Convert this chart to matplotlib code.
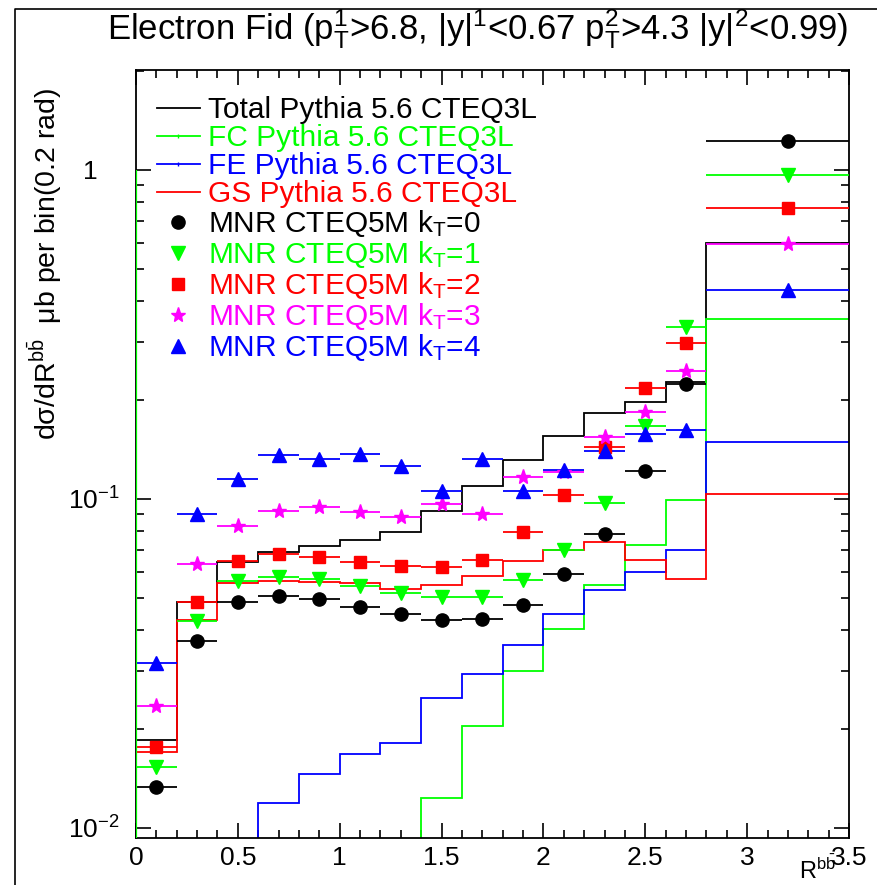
import numpy as np
import matplotlib
matplotlib.use("Agg")
import matplotlib.pyplot as plt
from matplotlib.lines import Line2D
from matplotlib.ticker import FixedLocator, FixedFormatter, LogLocator, NullFormatter, MultipleLocator

plt.rcParams['font.family'] = ['Liberation Sans', 'DejaVu Sans']
plt.rcParams['mathtext.fontset'] = 'custom'
plt.rcParams['mathtext.rm'] = 'Liberation Sans'
plt.rcParams['mathtext.it'] = 'Liberation Sans'
plt.rcParams['mathtext.bf'] = 'Liberation Sans:bold'

# ---- binning in R^{bb} (rad) ----
bin_edges = [0.0, 0.2, 0.4, 0.6, 0.8, 1.0, 1.2, 1.4, 1.6, 1.8, 2.0, 2.2, 2.4, 2.6, 2.8, 3.6]

# ---- Pythia 5.6 CTEQ3L histograms (ub per bin) ----
total_pythia = [0.0185, 0.0485, 0.0642, 0.0689, 0.0716, 0.0747, 0.079, 0.092,
                0.109, 0.131, 0.155, 0.182, 0.197, 0.226, 0.600]
gs_pythia = [0.0170, 0.0429, 0.0554, 0.0561, 0.0558, 0.0554, 0.0532, 0.0548,
             0.0584, 0.0645, 0.0696, 0.0738, 0.0653, 0.0571, 0.1033]
# flavour excitation: first bins fall below the plotted range
fe_first_bin = 3
fe_pythia = [0.0119, 0.0146, 0.0168, 0.0181, 0.0247, 0.0294, 0.036, 0.0446,
             0.0527, 0.0597, 0.070, 0.1487]
# flavour creation: first bins fall below the plotted range,
# its left edge is drawn up to fc_edge_top
fc_first_bin = 7
fc_pythia = [0.0123, 0.0203, 0.030, 0.0402, 0.0548, 0.0725, 0.0993, 0.352]
fc_edge_top = 1.0

# ---- MNR CTEQ5M NLO predictions for several intrinsic k_T ----
mnr_kt0 = [0.0133, 0.0368, 0.0485, 0.0506, 0.0497, 0.0469, 0.0446, 0.0428,
           0.0432, 0.0476, 0.0592, 0.0781, 0.1217, 0.223, 1.22]
mnr_kt1 = [0.0153, 0.0424, 0.0561, 0.0578, 0.0571, 0.0544, 0.0515, 0.0503,
           0.0503, 0.0565, 0.070, 0.097, 0.166, 0.333, 0.966]
mnr_kt2 = [0.0176, 0.0485, 0.0645, 0.068, 0.0665, 0.0644, 0.0624, 0.0621,
           0.0653, 0.079, 0.1023, 0.144, 0.217, 0.298, 0.763]
mnr_kt3 = [0.0234, 0.0633, 0.0826, 0.0915, 0.0943, 0.0908, 0.088, 0.0966,
           0.090, 0.1164, 0.1205, 0.154, 0.183, 0.244, 0.596]
mnr_kt4 = [0.0317, 0.0898, 0.115, 0.1355, 0.1323, 0.137, 0.1254, 0.1057,
           0.1323, 0.1057, 0.1225, 0.140, 0.157, 0.162, 0.431]

GREEN = '#00ff00'
BLUE = '#0000ff'
RED = '#ff0000'
MAGENTA = '#ff00ff'
BLACK = '#000000'

edges = np.array(bin_edges)
centers = 0.5 * (edges[:-1] + edges[1:])
half_w = 0.5 * np.diff(edges)

fig = plt.figure(figsize=(8.78, 8.85), dpi=100)
ax = fig.add_axes([136 / 878, 1 - 838 / 885, 713 / 878, 768 / 885])
ax.set_yscale('log')
ax.set_xlim(0, 3.5)
ymin, ymax = 0.0093, 2.01
ax.set_ylim(ymin, ymax)

hist_lw = 1.3
base = 1e-4
ax.stairs(total_pythia, edges, baseline=base, color=BLACK, lw=hist_lw, zorder=2)
ax.stairs(fc_pythia, edges[fc_first_bin:], baseline=base, color=GREEN, lw=hist_lw, zorder=2)
ax.vlines(edges[0], base, fc_edge_top, color=GREEN, lw=hist_lw + 0.3, zorder=4)
ax.stairs(fe_pythia, edges[fe_first_bin:], baseline=base, color=BLUE, lw=hist_lw, zorder=2)
ax.stairs(gs_pythia, edges, baseline=base, color=RED, lw=hist_lw, zorder=2)

mnr_sets = [
    (mnr_kt0, 'o', BLACK, 9.5, r'MNR CTEQ5M k$_\mathrm{T}$=0'),
    (mnr_kt1, 'v', GREEN, 10, r'MNR CTEQ5M k$_\mathrm{T}$=1'),
    (mnr_kt2, 's', RED, 9, r'MNR CTEQ5M k$_\mathrm{T}$=2'),
    (mnr_kt3, '*', MAGENTA, 11, r'MNR CTEQ5M k$_\mathrm{T}$=3'),
    (mnr_kt4, '^', BLUE, 10, r'MNR CTEQ5M k$_\mathrm{T}$=4'),
]
for vals, mk, col, ms, lab in mnr_sets:
    ax.errorbar(centers, vals, xerr=half_w, fmt=mk, color=col, ms=ms,
                elinewidth=1.3, capsize=0, mec=col, zorder=3)

# axis ticks, ROOT style: inward on all four sides
ax.xaxis.set_major_locator(FixedLocator([0, 0.5, 1, 1.5, 2, 2.5, 3, 3.5]))
ax.xaxis.set_major_formatter(FixedFormatter(['0', '0.5', '1', '1.5', '2', '2.5', '3', '3.5']))
ax.xaxis.set_minor_locator(MultipleLocator(0.1))
ax.yaxis.set_major_locator(FixedLocator([0.01, 0.1, 1.0]))
ax.yaxis.set_major_formatter(FixedFormatter([r'$10^{-2}$', r'$10^{-1}$', '1   ']))
ax.yaxis.set_minor_locator(LogLocator(base=10, subs=np.arange(2, 10)))
ax.yaxis.set_minor_formatter(NullFormatter())
ax.tick_params(which='both', direction='in', top=True, right=True, width=1.2, color='black')
ax.tick_params(which='major', length=11, labelsize=19)
ax.tick_params(axis='x', which='major', pad=6)
ax.tick_params(axis='y', which='major', pad=12)
ax.tick_params(which='minor', length=6)
for s in ax.spines.values():
    s.set_linewidth(1.3)

# legend
handles = [
    Line2D([], [], color=BLACK, lw=1.3),
    Line2D([], [], color=GREEN, lw=1.3, marker='|', ms=3, markevery=[1]),
    Line2D([], [], color=BLUE, lw=1.3, marker='|', ms=3, markevery=[1]),
    Line2D([], [], color=RED, lw=1.3),
] + [Line2D([], [], ls='none', marker=mk, color=col, ms=ms) for _, mk, col, ms, _ in mnr_sets]
labels = ['Total Pythia 5.6 CTEQ3L', 'FC Pythia 5.6 CTEQ3L', 'FE Pythia 5.6 CTEQ3L',
          'GS Pythia 5.6 CTEQ3L'] + [s[4] for s in mnr_sets]
colors = [BLACK, GREEN, BLUE, RED] + [s[2] for s in mnr_sets]
leg = ax.legend(handles, labels, loc='upper left', bbox_to_anchor=(0.025, 0.970),
                fontsize=21.5, frameon=True, facecolor='white', edgecolor='none',
                fancybox=False, framealpha=1, handlelength=1.45, handletextpad=0.27,
                labelspacing=0.0, borderpad=0.1, borderaxespad=0)
leg.set_zorder(5)
for t, c in zip(leg.get_texts(), colors):
    t.set_color(c)

fig.text(478 / 878, 1 - 29 / 885,
         r'Electron Fid (p$_\mathrm{T}^\mathrm{1}$>6.8, |y|$^\mathrm{1}$<0.67 p$_\mathrm{T}^\mathrm{2}$>4.3 |y|$^\mathrm{2}$<0.99)',
         ha='center', va='center', fontsize=25)
fig.text(45 / 878, 1 - 88 / 885,
         r'd$\sigma$/dR$^{\mathrm{b}\bar{\mathrm{b}}}$  $\mu$b per bin(0.2 rad)',
         rotation=90, ha='center', va='top', fontsize=20.5)
fig.text(836 / 878, 1 - 879 / 885, r'R$^{\mathrm{b}\bar{\mathrm{b}}}$',
         ha='right', va='baseline', fontsize=17)

# canvas border on the top and left
fig.add_artist(Line2D([15 / 878, 15 / 878, 1.0], [0.0, 1 - 9 / 885, 1 - 9 / 885],
                      transform=fig.transFigure, color='black', lw=1.2))

fig.savefig('out.png', dpi=100)
